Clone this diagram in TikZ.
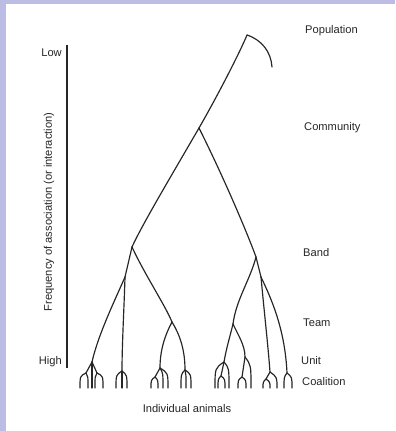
\documentclass[tikz,border=0pt]{standalone}
\usepackage{fontspec}
\setmainfont{Liberation Sans}
\usetikzlibrary{calc}
\definecolor{slide}{RGB}{188,188,228}

\begin{document}
\begin{tikzpicture}[x=0.03cm, y=-0.03cm,
    branch/.style={line width=1pt, black!85, line cap=round, line join=round},
    lbl/.style={font=\fontsize{9.5}{11}\selectfont, text=black!85, inner sep=0pt}]
    \useasboundingbox (0,0) rectangle (395,431);
    \fill[slide] (0,0) rectangle (395,431);
    \fill[white] (6,4) rectangle (395,431);

    % axis on the left
    \coordinate (top) at (67,45);
    \coordinate (bot) at (67,368);
    \draw[branch, line cap=butt] (top) -- (bot);
    \node[lbl, anchor=east] (low) at (62,53) {Low};
    \node[lbl, anchor=east] (high) at (62,362) {High};
    \node[lbl, rotate=90] (freq) at (49,212) {Frequency of association (or interaction)};

    % levels
    \node[lbl, anchor=west] (pop) at (305,31) {Population};
    \node[lbl, anchor=west] (com) at (304,128) {Community};
    \node[lbl, anchor=west] (band) at (303,253) {Band};
    \node[lbl, anchor=west] (team) at (303,323) {Team};
    \node[lbl, anchor=west] (unit) at (301,361) {Unit};
    \node[lbl, anchor=west] (coal) at (302,382) {Coalition};
    \node[lbl] (ind) at (187,409) {Individual animals};

    % forks of the tree
    \coordinate (P) at (247,35);
    \coordinate (T) at (272,67);
    \coordinate (C) at (199,128);
    \coordinate (BL) at (132,247);
    \coordinate (BR) at (256,257);
    \coordinate (L1) at (125,277);
    \coordinate (TL) at (172,322);
    \coordinate (R1) at (261,277);
    \coordinate (TR) at (233,324);
    \coordinate (U1) at (92,362);
    \coordinate (U2) at (122,371);
    \coordinate (U3) at (160,368);
    \coordinate (U4) at (185,370);
    \coordinate (U5) at (224,362);
    \coordinate (U6) at (245,357);
    \coordinate (U7) at (270,372);
    \coordinate (U8) at (287,373);
    \coordinate (S1) at (86,373);
    \coordinate (S2) at (97,373);
    \coordinate (S3) at (155,377);
    \coordinate (S5) at (221,376);
    \coordinate (S6) at (242,377);
    \coordinate (S7) at (266,379);

    \draw[branch] (P) .. controls (262,40) and (271,52) .. (T);
    \draw[branch] (P) .. controls (240,52) and (218,95) .. (C);
    \draw[branch] (C) .. controls (170,178) and (142,225) .. (BL);
    \draw[branch] (C) .. controls (225,180) and (248,235) .. (BR);
    \draw[branch] (BL) -- (L1);
    \draw[branch] (BL) .. controls (145,275) and (165,305) .. (TL);
    \draw[branch] (L1) .. controls (115,300) and (98,335) .. (U1);
    \draw[branch] (L1) .. controls (124,310) and (122,345) .. (U2);
    \draw[branch] (TL) .. controls (165,335) and (160,350) .. (U3);
    \draw[branch] (TL) .. controls (180,335) and (185,350) .. (U4);
    \draw[branch] (BR) .. controls (250,280) and (236,300) .. (TR);
    \draw[branch] (BR) -- (R1);
    \draw[branch] (R1) .. controls (264,310) and (268,345) .. (U7);
    \draw[branch] (R1) .. controls (272,300) and (285,330) .. (U8);
    \draw[branch] (TR) .. controls (229,340) and (226,350) .. (U5);
    \draw[branch] (TR) .. controls (238,335) and (245,345) .. (U6);
    \foreach \a/\b in {U1/S1,U1/S2,U3/S3,U5/S5,U6/S6,U7/S7}
        \draw[branch] (\a) -- (\b);

    % twigs down to the individual animals
    \foreach \f/\c/\xs in {S1/376/{80,88}, U1/370/{92}, S2/376/{95,103},
            U2/375/{116,122,127}, S3/380/{151,158}, U3/373/{163,168},
            U4/374/{181,186,191}, U5/368/{215,229}, S5/379/{218,225},
            S6/380/{238,246}, U6/365/{251}, S7/382/{263,270}, U7/377/{277},
            U8/377/{284,292}}
        \foreach \x in \xs
            \draw[branch] (\f) .. controls (\x,\c) .. (\x,388);
\end{tikzpicture}
\end{document}
